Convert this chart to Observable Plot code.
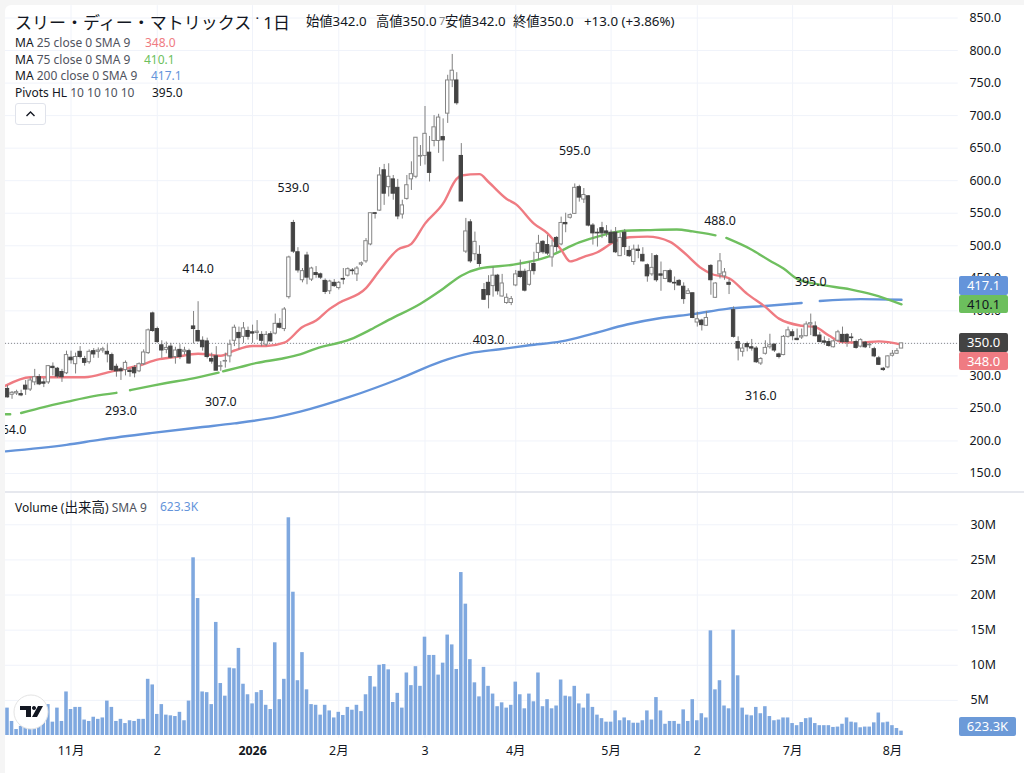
<!DOCTYPE html>
<html lang="ja">
<head>
<meta charset="utf-8">
<title>スリー・ディー・マトリックス 1日</title>
<script src="https://cdn.jsdelivr.net/npm/d3@7"></script>
<script src="https://cdn.jsdelivr.net/npm/@observablehq/plot@0.6"></script>
<style>
html,body{margin:0;padding:0;width:1024px;height:773px;overflow:hidden;background:#f5f5f5;font-family:"Noto Sans","Noto Sans CJK JP",sans-serif;color:#131722}
#pane{position:absolute;left:5px;top:5px;width:1019px;height:768px;background:#fff;border-top-left-radius:6px}
#price,#volume{position:absolute;left:0}
#price{top:0}#volume{top:491px}
svg{display:block;background:transparent!important}
#strip{position:absolute;left:0;top:0;width:5px;height:773px;background:#f5f5f5}
#sep{position:absolute;left:5px;top:491px;width:1019px;height:2px;background:#e6e8ee}
.t{position:absolute;white-space:nowrap;line-height:1}
.g{color:#50535e}
.tag{position:absolute;left:959px;width:49px;text-align:center;font-size:13px;border-radius:2px}
</style>
</head>
<body>
<div id="pane"></div>
<div id="price"></div>
<div id="volume"></div>
<div id="sep"></div>
<div id="strip"></div>
<div id="chrome"></div>
<script>
// ---- candles, one bar per trading day ----
const opens = [280,271,273,272,285,279,290,298,290,290,
314,311,306,304,328,318,337,326,321,338,
337,339,337,332,314,310,309,308,312,307,
318,335,396,372,347,340,345,329,340,337,
338,376,369,354,353,326,330,314,322,330,
354,366,360,369,367,366,363,348,364,365,
380,372,421,535,490,447,485,448,458,456,
446,430,443,435,449,454,462,456,471,476,
502,550,554,616,590,602,589,548,572,602,
606,637,638,643,661,661,667,703,754,754,
638,491,536,487,486,432,443,438,454,422,
412,412,439,460,460,440,472,489,506,501,
482,512,502,535,543,549,590,571,576,531,
520,527,522,520,520,484,520,492,475,494,
486,470,456,484,456,449,461,443,446,437,
426,427,382,385,377,469,420,456,453,443,
401,352,337,349,344,342,319,334,344,348,
333,332,360,367,357,359,361,379,376,362,
353,352,344,354,363,363,359,352,345,351,
347,341,327,311,313,331,334,342];
const highs = [285,276,278,278,293,297,310,302,296,316,
320,313,310,338,338,335,345,330,340,342,
343,344,348,335,318,313,323,311,316,320,
340,372,398,375,354,352,350,344,348,344,
341,399,414,360,358,335,345,322,335,355,
378,375,382,375,378,385,368,368,368,395,
388,405,484,539,497,465,490,467,468,458,
449,447,448,445,465,466,465,468,475,511,
550,551,620,625,626,608,602,570,608,629,
666,654,714,668,700,702,695,762,794,766,
657,542,540,521,500,442,454,467,456,456,
426,422,462,478,464,475,490,516,508,516,
508,514,544,550,549,595,593,588,577,534,
526,536,531,524,528,519,525,499,501,501,
497,472,488,486,475,462,464,452,448,443,
434,427,398,387,399,471,443,488,465,449,
406,360,349,352,356,345,328,354,364,349,
335,362,375,371,372,372,383,395,383,367,
360,357,355,370,375,365,365,355,357,353,
350,344,330,313,331,339,342,350];
const lows = [266,264,270,268,270,276,285,285,282,287,
300,296,290,302,318,303,326,315,318,327,
327,335,320,307,298,293,300,298,297,305,
316,333,367,350,327,334,326,318,325,332,
318,349,352,338,326,318,308,307,312,320,
345,340,350,355,350,355,345,345,352,363,
372,368,418,488,458,443,440,445,450,448,
425,425,436,432,440,452,455,445,468,473,
500,541,553,562,575,570,540,541,570,585,
603,622,624,598,652,642,629,688,743,716,
568,488,473,477,467,416,403,421,424,421,
410,408,437,450,429,438,455,478,487,485,
467,490,500,520,541,548,567,565,529,501,
498,511,513,503,488,484,485,482,470,480,
475,444,453,444,430,448,442,431,438,410,
425,388,375,369,376,424,419,449,447,425,
358,323,329,337,338,319,316,332,341,336,
326,331,358,354,354,356,360,362,360,351,
347,344,343,352,350,344,352,341,343,342,
342,328,316,307,311,329,333,342];
const closes = [267,274,275,270,279,293,298,287,288,315,
312,299,298,332,324,329,329,320,337,333,
339,341,333,309,307,307,320,306,304,318,
336,370,369,352,339,343,328,339,329,339,
319,372,353,344,329,322,308,315,323,348,
374,358,373,360,365,368,354,363,353,380,
374,402,482,491,462,461,451,465,455,451,
429,445,438,443,448,464,461,465,473,507,
550,549,608,580,606,580,545,562,593,610,
666,638,672,612,682,697,662,754,769,719,
568,522,476,506,472,417,424,454,430,442,
420,418,456,452,431,461,461,503,490,488,
499,498,535,533,547,589,574,578,531,519,
519,519,519,504,490,512,498,484,494,492,
476,453,466,447,454,461,444,442,439,418,
430,389,387,378,389,447,442,476,459,440,
360,342,342,344,342,321,326,343,347,339,
329,360,370,361,355,361,379,381,361,352,
351,346,353,367,352,352,358,343,355,344,
348,330,317,309,330,334,338,350];
// ---- volume, millions of shares ----
const volumes = [3.9,2.0,0.85,1.3,1.5,1.2,1.9,2.6,3.1,4.4,
1.9,3.9,2.0,6.2,3.7,4.0,4.0,2.2,2.0,2.6,
2.3,2.5,4.9,4.0,2.0,2.3,1.7,2.1,2.0,2.3,
2.3,8.0,7.2,3.0,4.4,2.9,2.8,2.7,3.3,2.1,
4.9,25.3,19.5,6.2,6.1,4.4,16.1,7.4,5.6,9.6,
9.5,12.4,7.3,5.8,4.5,6.1,6.4,4.3,3.7,13.2,
5.1,8.0,31.0,20.4,7.8,11.8,6.5,4.4,4.3,2.9,
4.3,3.5,2.5,3.3,2.85,4.0,3.6,4.3,3.4,5.8,
8.4,6.9,10.0,10.1,9.35,4.7,6.0,3.9,8.9,7.1,
9.8,7.0,14.0,11.4,11.4,8.6,10.3,14.3,12.9,9.4,
23.2,18.7,10.8,7.5,5.5,9.7,7.0,5.9,4.1,4.65,
3.9,4.3,7.6,5.8,3.8,5.9,4.8,8.9,4.1,5.1,
3.8,4.2,7.9,5.6,5.5,7.0,4.5,3.9,5.9,4.0,
2.9,2.4,1.9,1.9,3.5,2.1,2.5,2.1,1.75,1.75,
2.1,3.5,2.2,5.4,3.5,1.6,2.0,2.0,1.6,3.65,
2.0,5.1,2.1,3.1,2.5,14.9,6.5,7.8,4.2,3.8,
15.0,8.5,3.9,2.9,2.8,4.0,3.1,4.1,2.7,2.1,
2.2,2.5,2.5,1.7,1.4,1.85,2.4,2.5,1.7,1.4,
1.4,1.4,1.15,1.2,1.6,2.5,1.9,1.8,1.1,1.2,
1.2,1.8,3.2,1.8,1.9,1.4,1.0,0.62];
// ---- moving averages, read at the bars where the curve bends; null marks a break ----
const ma25Bars = [-0.4,5,13,17,23,26,29,33,37,42,47,50,54,57,61,65,68,71,73,79,82,86,89,92,96,99,100,104,106,110,112,116,119,122,124,127,130,134,137,141,146,149,153,155,159,163,167,170,175,178,181,184,188,192,197];
const ma25Vals = [285,298,298,298,307,311,316,325,329,334,331,339,346,346,351,375,385,403,412,435,462,494,503,534,565,603,608,610,598,572,564,534,519,494,476,483,490,507,513,514,506,490,465,457,450,426,406,388,377,375,362,352,351,353,348];
const ma75Bars = [-0.4,0.6,1,3,8,13,19,24,25,27,32,35,40,46.5,47,47.5,51,55,60,64.5,68,75.5,80,84,91,96,100,104,111.5,119,126,131,136,141,147.5,151,156,157,158.4,163.7,168,171,174,178.4,185.7,190.7,197];
const ma75Vals = [241,241,null,243,252,260,269,274,null,278,285,289,295,305,null,307,313,320,326,333,342,356,371,386,411,434,454,465,471,483,505,516,523,524,525,522,516,null,512,495,477,465,449,441,433,425,410];
const ma200Bars = [-0.4,13,20.5,31.5,42.5,50,59.5,64.5,75.5,86.5,95.5,102,108.5,115,122,129,136.5,144,151,158.5,166,175,177,179,188,197];
const ma200Vals = [184,194,202,212,221,227,237,245,268,296,322,335,341,347,353,365,379,389,395,403,407,412,null,415,418,417];
// ---- pivots ----
const pivotHighBars = [42,63,125,157,177];
const pivotHighVals = [414,539,595,488,395];
const pivotLowBars = [0.66,25,47,106,166];
const pivotLowVals = [264,293,307,403,316];
// ---- axes ----
const priceTicks = [150,200,250,300,350,400,450,500,550,600,650,700,750,800,850];
const volumeTicks = [5,10,15,20,25,30];
const monthBars = [14,33,54,73,92,112,133,152,173,195];
const monthLabels = ["11月","2","2026","2月","3","4月","5月","2","7月","8月"];
const lastClose = 350;

const bars = d3.range(opens.length);
const up = i => closes[i] >= opens[i];
const font = {fontFamily:"'Noto Sans','Noto Sans CJK JP',sans-serif",fontSize:"12.4px",background:"transparent",color:"#131722"};
const gridColor = "#f0f3fa";
const pts = (xs,ys)=>xs.map((x,k)=>({x,y:ys[k]}));
const hw = 0.37;
const lineOpts = {x:"x",y:"y",strokeWidth:2.4,curve:"monotone-x"};

const price = Plot.plot({
  width:1024,height:491,marginTop:0,marginBottom:0,marginLeft:0,marginRight:66,
  style:font,
  x:{domain:[0,197],range:[7,901],axis:null},
  y:{domain:[150,850],range:[473,17.5],axis:null},
  marks:[
    Plot.ruleY(priceTicks,{x1:-0.44,x2:209.5,stroke:gridColor}),
    Plot.ruleX(monthBars,{y1:122,y2:869,stroke:gridColor}),
    Plot.ruleY([lastClose],{x1:-0.44,x2:209.5,stroke:"#8a8a8a",strokeDasharray:"1,2"}),
    Plot.line(pts(ma200Bars,ma200Vals),{...lineOpts,stroke:"#6494da"}),
    Plot.line(pts(ma75Bars,ma75Vals),{...lineOpts,stroke:"#6fbf5f"}),
    Plot.line(pts(ma25Bars,ma25Vals),{...lineOpts,stroke:"#ef7b82"}),
    Plot.ruleX(bars,{x:i=>i,y1:i=>lows[i],y2:i=>highs[i],stroke:"#808080",strokeWidth:1}),
    Plot.rect(bars,{x1:i=>i-hw,x2:i=>i+hw,y1:i=>opens[i],y2:i=>closes[i],
      fill:i=>up(i)?"#ffffff":"#434343",stroke:i=>up(i)?"#858585":"#434343",strokeWidth:1}),
    Plot.text(pivotHighVals,{x:(d,k)=>pivotHighBars[k],y:d=>d,dy:-32.5,text:d=>d.toFixed(1),fill:"#131722",fontSize:12.4}),
    Plot.text(pivotLowVals,{x:(d,k)=>pivotLowBars[k],y:d=>d,dy:31,text:d=>d.toFixed(1),fill:"#131722",fontSize:12.4}),
    Plot.axisY({anchor:"right",ticks:priceTicks,tickFormat:d=>d.toFixed(1),tickSize:0,tickPadding:11,label:null,fill:"#131722"})
  ]
});
document.getElementById("price").append(price);

const volume = Plot.plot({
  width:1024,height:282,marginTop:0,marginBottom:0,marginLeft:0,marginRight:66,
  style:font,
  x:{domain:[0,197],range:[7,901],axis:null},
  y:{domain:[0,30],range:[244,33.3],axis:null},
  marks:[
    Plot.ruleY(volumeTicks,{x1:-0.44,x2:209.5,stroke:gridColor}),
    Plot.ruleX(monthBars,{y1:-0.4,y2:35,stroke:gridColor}),
    Plot.rect(bars,{x1:i=>i-0.39,x2:i=>i+0.39,y1:0,y2:i=>volumes[i],fill:"#7fa8df"}),
    Plot.text(monthLabels.map((t,k)=>({t,b:monthBars[k]})).filter(d=>d.t!=="2026"),{x:"b",y:0,dy:16,text:"t",fill:"#131722",fontSize:12.4}),
    Plot.text(monthLabels.map((t,k)=>({t,b:monthBars[k]})).filter(d=>d.t==="2026"),{x:"b",y:0,dy:16,text:"t",fill:"#131722",fontSize:12.4,fontWeight:"bold"}),
    Plot.axisY({anchor:"right",ticks:volumeTicks,tickFormat:d=>d+"M",tickSize:0,tickPadding:12,label:null,fill:"#131722"})
  ]
});
document.getElementById("volume").append(volume);

// ---- header, legend, price tags and logo ----
const c = document.getElementById("chrome");
function t(x,y,size,html,extra){
  const e=document.createElement("div");e.className="t";
  e.style.cssText=`left:${x}px;top:${y}px;font-size:${size}px;${extra||""}`;
  e.innerHTML=html;c.append(e);return e;
}
t(15,14,17,"スリー・ディー・マトリックス ˙ 1日","color:#131722");
t(306,15,13.3,"始値342.0");
t(376,15,13.3,"高値350.0");
t(439,15,11,"7","color:#888");
t(445,15,13.3,"安値342.0");
t(513,15,13.3,"終値350.0");
t(584,15,13.3,"+13.0 (+3.86%)");
const rows=[
 ["MA"," 25 close 0 SMA 9","348.0","#ef7b82",145,37],
 ["MA"," 75 close 0 SMA 9","410.1","#6cbf5d",144,53.5],
 ["MA"," 200 close 0 SMA 9","417.1","#6494da",151,70],
 ["Pivots HL"," 10 10 10 10","395.0","#131722",152,86.5]];
rows.forEach(r=>{
  t(15,r[5],12,`${r[0]}<span class="g">${r[1]}</span>`);
  t(r[4],r[5],12,r[2],`color:${r[3]}`);
});
const btn=document.createElement("div");
btn.style.cssText="position:absolute;left:15px;top:103px;width:29px;height:20px;border:1px solid #e0e3eb;border-radius:3px;background:#fff";
btn.innerHTML='<svg width="29" height="20"><path d="M10.5 12 L14.5 8 L18.5 12" fill="none" stroke="#131722" stroke-width="1.4"/></svg>';
c.append(btn);
t(15,501,12,'Volume (<span style="font-size:13.5px">出来高</span>) <span class="g">SMA 9</span>');
t(160,501,12,"623.3K","color:#6494da");
function tag(y,h,bg,fg,txt,w){
  const e=document.createElement("div");e.className="tag";
  e.style.cssText=`top:${y}px;height:${h}px;line-height:${h}px;background:${bg};color:${fg};${w?`width:${w}px;`:""}`;
  e.textContent=txt;c.append(e);
}
tag(276,18.5,"#6494da","#fff","417.1");
tag(294.5,18.5,"#6cbf5d","#131722","410.1");
tag(333,18.5,"#434343","#fff","350.0");
tag(351.5,18.5,"#ef7b82","#fff","348.0");
tag(717,18.5,"#6c9ad8","#fff","623.3K",57);
const logo=document.createElement("div");
logo.style.cssText="position:absolute;left:13px;top:694px;width:36px;height:36px";
logo.innerHTML='<svg width="36" height="36"><circle cx="18" cy="18" r="17" fill="#fff" stroke="#e4e4e4"/><path d="M7 12 H18 V23 H13 V16 H7Z M21 12 a2 2 0 1 0 .01 0 Z M19 23 L25 12 H30 L24 23Z" fill="#131722"/></svg>';
c.append(logo);
</script>
</body>
</html>
